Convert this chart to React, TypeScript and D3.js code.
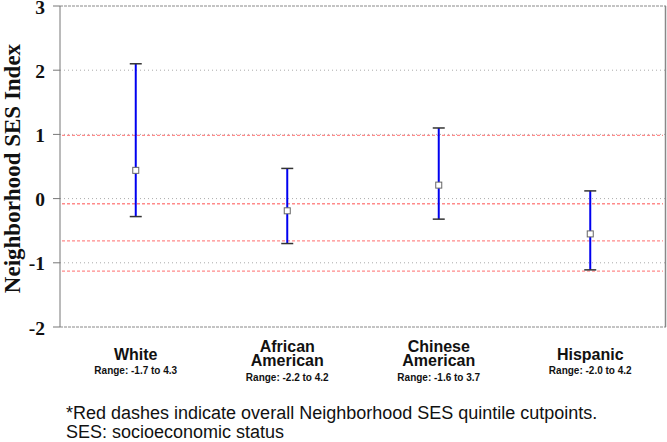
import React from "react";
import * as d3 from "d3";

const categories = ["White", "African American", "Chinese American", "Hispanic"];
const labelLines = [["White"], ["African", "American"], ["Chinese", "American"], ["Hispanic"]];
const rangeLabels = ["Range: -1.7 to 4.3", "Range: -2.2 to 4.2", "Range: -1.6 to 3.7", "Range: -2.0 to 4.2"];
const means = [0.44, -0.19, 0.21, -0.55];
const upper = [2.1, 0.47, 1.1, 0.12];
const lower = [-0.28, -0.7, -0.32, -1.11];
const cutpoints = [0.985, -0.08, -0.66, -1.13];
const yTicks = [-2, -1, 0, 1, 2, 3];
const gridLines = [-1, 0, 1, 2];
const footnotes = [
  "*Red dashes indicate overall Neighborhood SES quintile cutpoints.",
  "SES: socioeconomic status",
];

const W = 667;
const H = 442;
const left = 60;
const right = 666;
const top = 6;
const bottom = 327;

export default function App() {
  const y = d3.scaleLinear().domain([-2, 3]).range([bottom, top]);
  const x = d3.scaleBand<string>().domain(categories).range([left, right]);
  const cx = (c: string) => (x(c) as number) + x.bandwidth() / 2;
  const serif = "'Liberation Serif', 'Times New Roman', serif";
  const sans = "'Liberation Sans', Arial, sans-serif";

  return (
    <svg width={W} height={H} style={{ position: "absolute", left: 0, top: 0, background: "#fff" }}>
      {/* grid */}
      {gridLines.map((g) => (
        <line key={"g" + g} x1={left} x2={right} y1={y(g)} y2={y(g)} stroke="#aaa" strokeWidth={1} strokeDasharray="1,3" />
      ))}
      {/* frame top/bottom */}
      <line x1={left} x2={right} y1={y(3)} y2={y(3)} stroke="#888" strokeWidth={1} strokeDasharray="3,1" />
      <line x1={left} x2={right} y1={y(-2)} y2={y(-2)} stroke="#888" strokeWidth={1} strokeDasharray="3,1" />
      <line x1={right - 0.5} x2={right - 0.5} y1={y(3)} y2={y(-2)} stroke="#888" strokeWidth={1.5} />
      {/* red cutpoints */}
      {cutpoints.map((c) => (
        <line key={"c" + c} x1={left + 2} x2={right - 3} y1={y(c)} y2={y(c)} stroke="#ff8a8a" strokeWidth={1.3} strokeDasharray="3,2" />
      ))}
      {/* y axis */}
      <line x1={left} x2={left} y1={y(3)} y2={y(-2)} stroke="#777" strokeWidth={1} />
      {yTicks.map((t) => (
        <g key={"t" + t}>
          <line x1={left - 7} x2={left} y1={y(t)} y2={y(t)} stroke="#777" strokeWidth={1} />
          <text x={45} y={y(t) + 7.5} textAnchor="end" fontFamily={serif} fontWeight="bold" fontSize={19.5} fill="#111">
            {t}
          </text>
        </g>
      ))}
      <text
        transform={`translate(20,${(y(3) + y(-2)) / 2 + 2}) rotate(-90)`}
        textAnchor="middle"
        fontFamily={serif}
        fontWeight="bold"
        fontSize={23}
        fill="#111"
      >
        Neighborhood SES Index
      </text>
      {/* error bars */}
      {categories.map((c, i) => {
        const xc = cx(c);
        return (
          <g key={c}>
            <line x1={xc} x2={xc} y1={y(upper[i])} y2={y(lower[i])} stroke="#0000f0" strokeWidth={2} />
            <line x1={xc - 6} x2={xc + 6} y1={y(upper[i])} y2={y(upper[i])} stroke="#333" strokeWidth={1.5} />
            <line x1={xc - 6} x2={xc + 6} y1={y(lower[i])} y2={y(lower[i])} stroke="#333" strokeWidth={1.5} />
            <rect x={xc - 3} y={y(means[i]) - 3} width={6} height={6} fill="#fff" stroke="#666" strokeWidth={1} />
          </g>
        );
      })}
      {/* category labels */}
      {categories.map((c, i) => {
        const xc = cx(c);
        const lines = labelLines[i];
        const two = lines.length === 2;
        const firstBase = two ? 352 : 359.5;
        const rangeBase = two ? 381 : 374;
        return (
          <g key={"l" + c}>
            {lines.map((ln, j) => (
              <text key={ln} x={xc} y={firstBase + j * 14} textAnchor="middle" fontFamily={sans} fontWeight="bold" fontSize={16} fill="#111">
                {ln}
              </text>
            ))}
            <text x={xc} y={rangeBase} textAnchor="middle" fontFamily={sans} fontWeight="bold" fontSize={10} fill="#111">
              {rangeLabels[i]}
            </text>
          </g>
        );
      })}
      {/* footnotes */}
      {footnotes.map((f, i) => (
        <text key={f} x={66} y={419 + i * 19} fontFamily={sans} fontSize={18} fill="#111">
          {f}
        </text>
      ))}
    </svg>
  );
}
